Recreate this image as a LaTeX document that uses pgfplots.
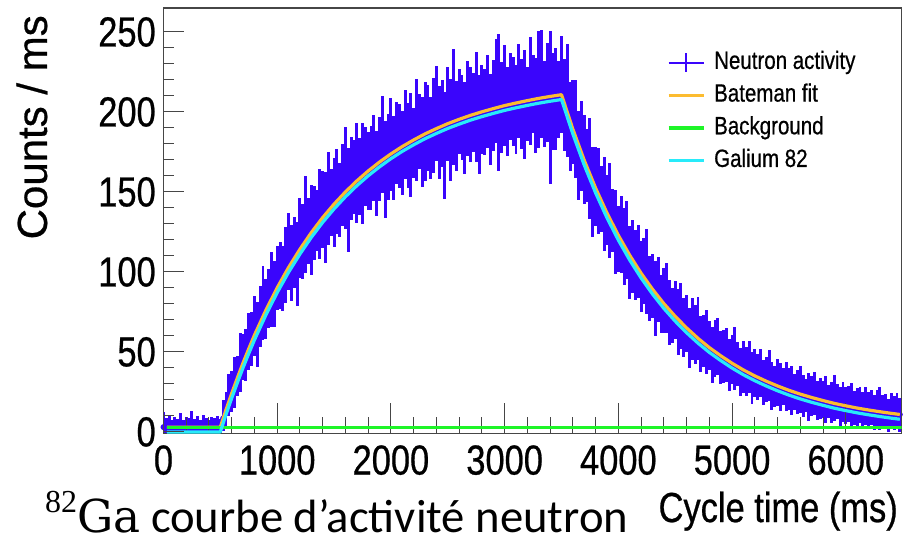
\documentclass[border=0pt]{standalone}
\usepackage{fontspec}
\setmainfont{Liberation Sans}[FakeStretch=0.82, FakeBold=0.6]
\newfontfamily\ylabfont{Liberation Sans}[FakeBold=0.6]
\newfontfamily\capfont{Carlito}
\newfontfamily\capserif{DejaVu Serif}
\newfontfamily\capdigits{Liberation Serif}
\usepackage{pgfplots}
\pgfplotsset{compat=1.18}
\usepackage{pgfplotstable}
\definecolor{datablue}{RGB}{58,5,252}
\definecolor{fitorange}{RGB}{252,188,48}
\definecolor{bggreen}{RGB}{30,245,40}
\definecolor{gacyan}{RGB}{40,235,250}
\definecolor{axgray}{RGB}{70,70,70}

\pgfplotstableread{
t f a b
0 3 2.4 0.9
25 3 1.4 0.9
50 3 1.9 0.9
75 3 1.2 0.9
100 3 1.7 0.9
125 3 1.3 0.9
150 3 2.2 0.9
175 3 1.2 0.9
200 3 1.6 0.9
225 3 1.4 0.9
250 3 2.6 0.9
275 3 1.3 0.9
300 3 1.8 0.9
325 3 1.1 0.9
350 3 2.0 0.9
375 3 1.5 0.9
400 3 1.2 0.9
425 3 1.7 0.9
450 3 1.4 0.9
475 3 1.8 0.9
500 3 1.3 0.9
525 8.5 2.4 1.7
550 13.9 2.0 1.9
575 19.1 2.9 1.5
600 24.1 2.2 1.8
625 29.0 2.6 2.1
650 33.8 1.9 1.6
675 38.5 3.1 1.8
700 43.2 2.3 1.4
725 47.6 2.1 2.0
750 52.0 2.7 1.6
775 56.3 2.2 1.8
800 60.5 2.8 1.5
825 64.5 1.9 2.7
850 68.4 2.5 1.7
875 72.2 3.4 1.6
900 76.0 2.1 1.9
925 79.6 2.3 1.5
950 83.2 3.0 1.8
975 86.7 2.0 2.1
1000 90.1 2.6 1.4
1025 93.4 2.5 1.6
1050 96.6 1.9 2.0
1075 99.7 2.7 1.8
1100 102.8 3.2 1.3
1125 105.7 2.2 2.2
1150 108.6 2.4 1.7
1175 111.4 1.8 3.0
1200 114.2 2.9 1.6
1225 116.9 2.3 1.9
1250 119.5 3.6 1.8
1275 122.1 2.1 1.5
1300 124.6 2.6 2.3
1325 127.0 2.3 1.7
1350 129.4 1.9 1.4
1375 131.7 2.8 2.0
1400 134.0 2.5 1.6
1425 136.2 2.2 2.6
1450 138.3 3.1 1.8
1475 140.4 2.0 1.5
1500 142.4 2.4 2.2
1525 144.4 2.7 1.7
1550 146.3 1.8 2.0
1575 148.2 2.6 1.6
1600 150.0 3.3 1.9
1625 151.8 2.1 3.2
1650 153.5 2.5 1.7
1675 155.2 2.2 1.5
1700 156.9 2.9 2.1
1725 158.5 2.0 1.8
1750 160.1 2.6 2.4
1775 161.6 2.3 1.6
1800 163.1 1.9 1.9
1825 164.5 2.1 2.0
1850 165.9 2.5 1.7
1875 167.3 1.6 2.5
1900 168.7 2.2 1.9
1925 170.0 3.1 1.6
1950 171.3 1.8 2.9
1975 172.6 2.0 2.1
2000 173.8 2.7 1.8
2025 175.0 1.7 2.3
2050 176.2 2.3 1.6
2075 177.3 2.1 1.9
2100 178.4 1.7 2.3
2125 179.4 2.6 1.6
2150 180.5 1.9 2.1
2175 181.5 2.3 2.6
2200 182.5 1.5 1.8
2225 183.5 2.8 2.0
2250 184.4 2.0 1.5
2275 185.4 1.8 2.4
2300 186.3 2.4 2.2
2325 187.1 2.2 1.8
2350 188.0 1.6 2.2
2375 188.8 2.4 2.0
2400 189.6 2.9 1.5
2425 190.4 1.9 2.4
2450 191.2 2.1 1.9
2475 192.0 1.5 3.4
2500 192.7 2.6 1.7
2525 193.4 2.0 2.7
2550 194.1 3.3 2.0
2575 194.8 1.8 2.3
2600 195.4 2.3 1.6
2625 196.0 2.0 1.9
2650 196.7 1.6 2.6
2675 197.3 2.5 1.8
2700 197.9 2.2 2.1
2725 198.5 1.9 1.7
2750 199.0 2.8 2.2
2775 199.6 1.7 2.8
2800 200.1 2.1 1.9
2825 200.6 1.9 2.0
2850 201.1 2.5 1.7
2875 201.6 1.6 2.5
2900 202.1 2.2 1.9
2925 202.6 3.1 1.6
2950 203.1 3.3 2.9
2975 203.5 2.0 2.1
3000 204.0 2.7 1.8
3025 204.4 1.7 2.3
3050 204.8 2.3 1.6
3075 205.2 2.1 1.9
3100 205.6 1.7 2.3
3125 206.0 2.6 1.6
3150 206.4 1.9 2.1
3175 206.7 2.3 2.6
3200 207.1 1.5 1.8
3225 207.5 2.8 2.0
3250 207.8 2.0 1.5
3275 208.2 1.8 2.4
3300 208.5 3.0 2.2
3325 208.8 3.0 1.8
3350 209.1 1.6 2.2
3375 209.4 2.4 2.0
3400 209.7 2.9 3.9
3425 210.0 1.9 2.4
3450 210.3 2.1 2.4
3475 210.5 1.5 1.9
3500 210.8 2.6 1.7
3525 205.2 2.0 2.1
3550 199.7 3.1 2.0
3575 194.4 1.8 2.3
3600 189.2 2.3 1.6
3625 184.1 2.7 1.9
3650 179.2 1.6 2.6
3675 174.4 2.5 1.8
3700 169.8 2.2 2.1
3725 165.3 1.9 1.7
3750 160.9 2.8 2.2
3775 156.6 1.7 2.8
3800 152.4 2.1 1.9
3825 148.4 2.4 2.0
3850 144.4 1.8 1.6
3875 140.6 2.6 2.3
3900 136.8 2.0 1.7
3925 133.2 3.0 2.1
3950 129.7 1.9 1.5
3975 126.2 2.2 2.4
4000 122.9 1.6 2.0
4025 119.6 2.5 1.8
4050 116.5 2.1 2.2
4075 113.4 2.8 1.6
4100 110.4 1.7 2.5
4125 107.5 2.3 1.9
4150 104.7 2.0 2.1
4175 101.9 2.6 1.7
4200 99.2 1.9 2.3
4225 96.6 2.4 1.6
4250 94.1 3.2 2.0
4275 91.6 1.8 2.2
4300 89.2 2.2 1.8
4325 86.9 2.0 2.7
4350 84.6 2.5 1.6
4375 82.4 1.6 2.1
4400 80.2 2.3 1.9
4425 78.1 2.9 1.7
4450 76.1 2.0 2.3
4475 74.1 1.7 2.0
4500 72.2 2.4 1.5
4525 70.3 2.1 2.4
4550 68.5 2.7 1.8
4575 66.7 1.9 2.2
4600 65.0 2.3 1.7
4625 63.3 1.6 2.6
4650 61.7 2.5 1.9
4675 60.1 2.2 2.0
4700 58.5 3.0 1.6
4725 57.0 1.8 2.3
4750 55.6 2.1 1.8
4775 54.1 2.6 2.1
4800 52.7 2.0 1.7
4825 51.4 1.7 2.5
4850 50.1 2.4 1.9
4875 48.8 2.8 1.6
4900 47.6 1.9 2.2
4925 46.4 2.2 2.0
4950 45.2 2.5 1.8
4975 44.0 1.8 2.4
5000 42.9 2.3 1.7
5025 41.8 3.1 2.0
5050 40.8 2.0 1.6
5075 39.7 1.7 2.3
5100 38.7 2.4 1.9
5125 37.8 2.1 2.1
5150 36.8 2.7 1.7
5175 35.9 1.9 2.5
5200 35.0 2.3 1.8
5225 34.1 2.0 2.0
5250 33.3 2.6 1.6
5275 32.5 1.8 2.2
5300 31.7 2.2 1.9
5325 30.9 2.9 1.7
5350 30.2 2.0 2.4
5375 29.4 1.7 2.0
5400 28.7 2.5 1.8
5425 28.0 2.2 2.2
5450 27.3 1.9 1.6
5475 26.7 2.6 2.1
5500 26.0 2.1 1.9
5525 25.4 2.4 2.3
5550 24.8 1.8 1.7
5575 24.2 2.3 2.0
5600 23.6 2.8 1.8
5625 23.1 2.0 2.2
5650 22.5 1.7 1.6
5675 22.0 2.4 2.4
5700 21.5 2.2 1.9
5725 21.0 2.7 1.7
5750 20.5 1.9 2.1
5775 20.0 2.3 2.0
5800 19.6 2.0 1.8
5825 19.1 2.6 2.3
5850 18.7 1.8 1.7
5875 18.2 2.2 2.1
5900 17.8 3.0 1.9
5925 17.4 2.1 1.6
5950 17.0 1.9 2.4
5975 16.7 2.5 1.8
6000 16.3 2.0 2.0
6025 15.9 2.3 1.7
6050 15.6 2.7 2.2
6075 15.2 1.8 1.9
6100 14.9 2.2 2.1
6125 14.6 2.4 1.6
6150 14.3 1.9 2.3
6175 14.0 2.6 1.8
6200 13.7 2.1 2.0
6225 13.4 2.3 1.7
6250 13.1 1.8 2.2
6275 12.9 2.5 1.9
6300 12.6 2.9 2.1
6325 12.3 2.0 1.8
6350 12.1 2.2 2.0
6375 11.8 1.7 2.3
6400 11.6 2.4 1.7
6425 11.4 2.1 2.0
6450 11.1 2.6 1.8
6475 10.9 2.0 2.1
}\datatable

\pgfplotsset{
  myframe/.style={width=553.5pt, height=319.1pt, scale only axis,
    xmin=0, xmax=6490, ymin=-1, ymax=265},
}

\begin{document}
\begin{tikzpicture}
% layer 0: the noisy histogram (error bars), drawn first so that the fits lie on top
\begin{axis}[myframe, hide axis]
\addplot[datablue, only marks, mark=none,
  error bars/.cd, y dir=both, y explicit, error mark=none,
  error bar style={line width=2.2pt, color=datablue}]
  table[x=t, y=f,
    y error plus expr={\thisrow{a}*(0.8*sqrt(\thisrow{f})+2.5)},
    y error minus expr={\thisrow{b}*(0.8*sqrt(\thisrow{f})+2.5)}] {\datatable};
\end{axis}

% main axis: fit curves, x ticks, frame, legend
\begin{axis}[
  myframe,
  xtick={0,1000,2000,3000,4000,5000,6000},
  minor x tick num=4,
  ytick=\empty,
  xtick pos=left,
  tick align=inside,
  major tick length=23pt, minor tick length=12pt,
  tick style={color=axgray, line width=0.75pt},
  axis line style={color=axgray, line width=0.9pt},
  scaled ticks=false,
  /pgf/number format/assume math mode=true,
  /pgf/number format/1000 sep={},
  xticklabel style={font=\fontsize{31.5}{32}\selectfont, inner sep=0pt, anchor=north, yshift=-8.6pt},
  legend image code/.code={\draw[#1] (0pt,0pt) -- (26.25pt,0pt);},
  legend cell align=left,
  legend style={at={(axis description cs:0.6822,0.9007)}, anchor=north west,
    draw=none, fill=none, inner sep=0pt, outer sep=0pt,
    row sep=6pt, column sep=6.75pt,
    font=\fontsize{18.75}{20}\selectfont,
    nodes={inner sep=0pt, text height=14pt, text depth=4.5pt}},
]
\addlegendimage{legend image code/.code={
    \draw[datablue, line width=1.5pt] (0pt,0pt) -- (26.25pt,0pt);
    \draw[datablue, line width=1.5pt] (13.1pt,-7pt) -- (13.1pt,7pt);}}
\addlegendentry{Neutron activity}

\addplot[fitorange, line width=2.4pt, line join=round] coordinates {
(30,3) (500,3) (550,13.9) (600,24.1) (650,33.8) (700,43.2) (750,52.0) (800,60.5)
(900,76.0) (1000,90.1) (1100,102.8) (1200,114.2) (1300,124.6) (1400,134.0)
(1500,142.4) (1600,150.0) (1700,156.9) (1800,163.1) (1900,168.7) (2000,173.8)
(2100,178.4) (2200,182.5) (2300,186.3) (2400,189.6) (2500,192.7) (2600,195.4)
(2700,197.9) (2800,200.1) (2900,202.1) (3000,204.0) (3100,205.6) (3200,207.1)
(3300,208.5) (3400,209.7) (3500,210.8) (3600,189.2) (3700,169.8) (3800,152.4)
(3900,136.8) (4000,122.9) (4100,110.4) (4200,99.2) (4300,89.2) (4400,80.2)
(4500,72.2) (4600,65.0) (4700,58.5) (4800,52.7) (4900,47.6) (5000,42.9)
(5100,38.7) (5200,35.0) (5300,31.7) (5400,28.7) (5500,26.0) (5600,23.6)
(5700,21.5) (5800,19.6) (5900,17.8) (6000,16.3) (6100,14.9) (6200,13.7)
(6300,12.6) (6400,11.6) (6475,10.9)};
\addlegendentry{Bateman fit}

\addplot[bggreen, line width=2.4pt] coordinates {(30,3) (6490,3)};
\addlegendentry{Background}

\addplot[gacyan, line width=2.4pt, line join=round] coordinates {
(30,0) (500,0) (550,10.9) (600,21.1) (650,30.8) (700,40.2) (750,49.0) (800,57.5)
(900,73.0) (1000,87.1) (1100,99.8) (1200,111.2) (1300,121.6) (1400,131.0)
(1500,139.4) (1600,147.0) (1700,153.9) (1800,160.1) (1900,165.7) (2000,170.8)
(2100,175.4) (2200,179.5) (2300,183.3) (2400,186.6) (2500,189.7) (2600,192.4)
(2700,194.9) (2800,197.1) (2900,199.1) (3000,201.0) (3100,202.6) (3200,204.1)
(3300,205.5) (3400,206.7) (3500,207.8) (3600,186.2) (3700,166.8) (3800,149.4)
(3900,133.8) (4000,119.9) (4100,107.4) (4200,96.2) (4300,86.2) (4400,77.2)
(4500,69.2) (4600,62.0) (4700,55.5) (4800,49.7) (4900,44.6) (5000,39.9)
(5100,35.7) (5200,32.0) (5300,28.7) (5400,25.7) (5500,23.0) (5600,20.6)
(5700,18.5) (5800,16.6) (5900,14.8) (6000,13.3) (6100,11.9) (6200,10.7)
(6300,9.6) (6400,8.6) (6475,7.9)};
\addlegendentry{Galium 82}
\end{axis}

% overlay axis: y ticks and labels
\begin{axis}[
  myframe,
  hide x axis,
  axis line style={draw=none},
  ytick={0,50,100,150,200,250},
  minor y tick num=4,
  ytick pos=left,
  tick align=inside,
  major tick length=15.75pt, minor tick length=8.25pt,
  tick style={color=axgray, line width=0.75pt},
  /pgf/number format/assume math mode=true,
  yticklabel style={font=\fontsize{31.5}{32}\selectfont, inner sep=0pt, anchor=east, xshift=-5.6pt},
]
\end{axis}

\node[anchor=base east, inner sep=0pt, font=\fontsize{31.5}{32}\selectfont] at (550.9pt,-66.4pt) {Cycle time (ms)};
\node[anchor=base east, inner sep=0pt, font=\ylabfont\fontsize{31.5}{32}\selectfont, rotate=90] at (-87.4pt,313.85pt) {Counts / ms};
\node[anchor=base west, inner sep=0pt] at (-88.9pt,-73.9pt)
  {\raisebox{15pt}{\capdigits\fontsize{24}{24}\selectfont 82}{\capserif\fontsize{34}{34}\selectfont Ga}\capfont\fontsize{35}{35}\selectfont\ courbe d’activité neutron};

\pgfresetboundingbox
\path (-122.6pt,-85.1pt) rectangle (554.6pt,325.1pt);
\end{tikzpicture}
\end{document}
